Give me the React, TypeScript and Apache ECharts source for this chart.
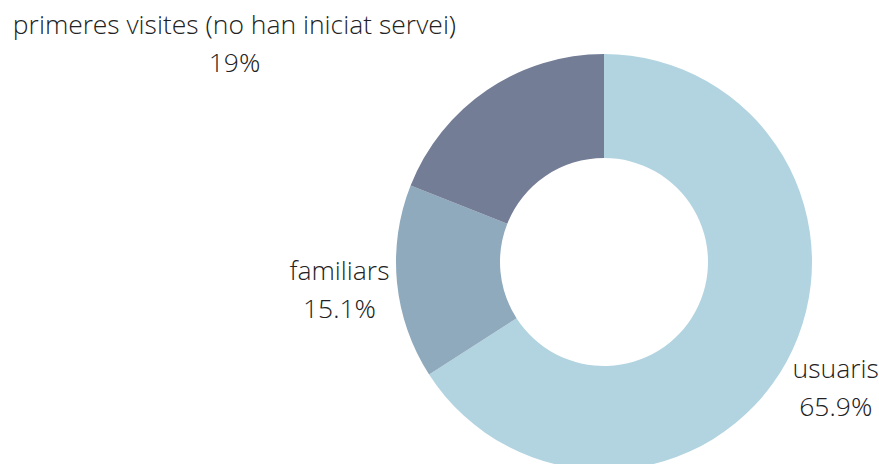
import React, { useEffect, useRef } from "react";
import * as echarts from "echarts";

const categories = ["usuaris", "familiars", "primeres visites (no han iniciat servei)"];
const shares = [65.9, 15.1, 19];
const colors = ["#b2d4e0", "#8fa9bd", "#737d96"];

const CENTER = [604, 262];
const RADIUS = [104, 208];
// label placement tweaks (gap from the outer edge, vertical shift)
const labelGap = [6, 7.5, 31];
const labelShiftY = [25, 7, -47];

export default function App() {
  const ref = useRef<HTMLDivElement>(null);
  useEffect(() => {
    document.body.style.margin = "0";
    const chart = echarts.init(ref.current!, null, { renderer: "svg" });
    const total = shares.reduce((a, b) => a + b, 0);
    const mids: number[] = [];
    let acc = 0;
    shares.forEach((v) => {
      mids.push(((acc + v / 2) / total) * 2 * Math.PI);
      acc += v;
    });
    chart.setOption({
      animation: false,
      series: [
        {
          type: "pie",
          center: CENTER,
          radius: RADIUS,
          startAngle: 90,
          clockwise: true,
          avoidLabelOverlap: false,
          label: {
            show: true,
            position: "outside",
            formatter: "{b}\n{c}%",
            fontFamily: "'Open Sans Light', 'Open Sans', sans-serif",
            fontWeight: 300,
            fontSize: 26.5,
            lineHeight: 38,
            color: "#222222",
          },
          labelLine: { show: false },
          emphasis: { disabled: true },
          itemStyle: { borderWidth: 0 },
          data: categories.map((name, i) => ({
            name,
            value: shares[i],
            itemStyle: { color: colors[i] },
          })),
          labelLayout: (p: any) => {
            const i = p.dataIndex;
            const a = mids[i];
            const ex = CENTER[0] + RADIUS[1] * Math.sin(a);
            const ey = CENTER[1] - RADIUS[1] * Math.cos(a);
            const side = Math.sin(a) >= 0 ? 1 : -1;
            return {
              x: ex + side * (labelGap[i] + p.labelRect.width / 2),
              y: ey + labelShiftY[i],
              align: "center",
              verticalAlign: "middle",
            };
          },
        },
      ],
    });
    return () => chart.dispose();
  }, []);
  return <div ref={ref} style={{ width: 879, height: 464 }} />;
}
